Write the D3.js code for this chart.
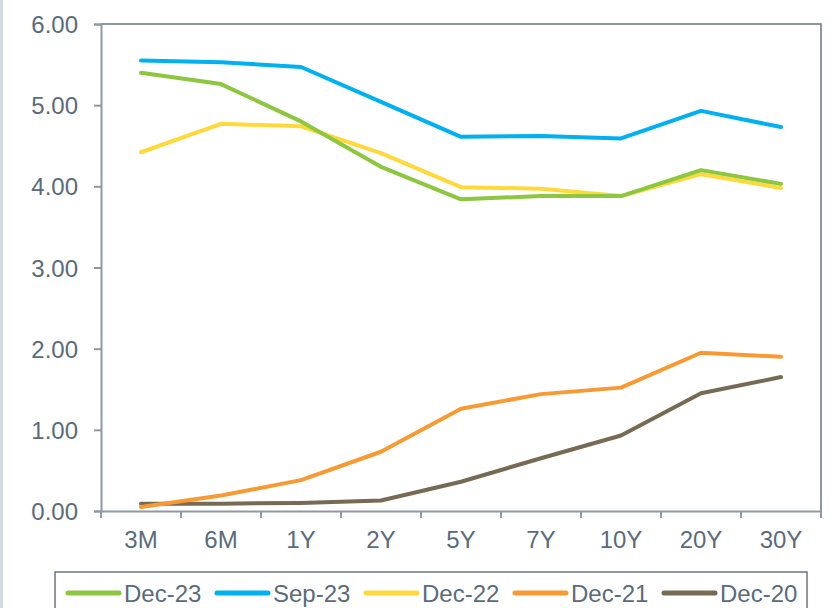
<!DOCTYPE html>
<html>
<head>
<meta charset="utf-8">
<script src="https://d3js.org/d3.v7.min.js"></script>
<style>
  body { margin: 0; background: #fff; }
  text { font-family: "Liberation Sans", Arial, sans-serif; fill: #5a6b7c; }
</style>
</head>
<body>
<svg id="chart" width="835" height="608"></svg>
<script>
// tenors and yield curves (%)
var tenors = ["3M", "6M", "1Y", "2Y", "5Y", "7Y", "10Y", "20Y", "30Y"];
var dec23 = [5.40, 5.26, 4.80, 4.24, 3.84, 3.88, 3.88, 4.20, 4.03];
var sep23 = [5.55, 5.53, 5.47, 5.04, 4.61, 4.62, 4.59, 4.93, 4.73];
var dec22 = [4.42, 4.77, 4.74, 4.41, 3.99, 3.97, 3.88, 4.15, 3.98];
var dec21 = [0.05, 0.19, 0.38, 0.73, 1.26, 1.44, 1.52, 1.95, 1.90];
var dec20 = [0.09, 0.09, 0.10, 0.13, 0.36, 0.65, 0.93, 1.45, 1.65];
var yTicks = [0, 1, 2, 3, 4, 5, 6];

var series = [
  {name: "Dec-23", values: dec23, color: "#8dc63f"},
  {name: "Sep-23", values: sep23, color: "#00b0f0"},
  {name: "Dec-22", values: dec22, color: "#ffd93b"},
  {name: "Dec-21", values: dec21, color: "#f79a33"},
  {name: "Dec-20", values: dec20, color: "#776a55"}
];

var svg = d3.select("#chart");
var margin = {top: 24, left: 101, right: 14, bottom: 97};
var width = 835 - margin.left - margin.right;
var height = 608 - margin.top - margin.bottom;

// thin strip on the left edge
svg.append("rect").attr("x", 0).attr("y", 0).attr("width", 3).attr("height", 608)
  .attr("fill", "#d3dbe3");

var g = svg.append("g").attr("transform", "translate(" + margin.left + "," + margin.top + ")");

var x = d3.scaleBand().domain(tenors).range([0, width]);
var y = d3.scaleLinear().domain([0, 6]).range([height, 0]);

// top and right frame
g.append("path")
  .attr("d", "M0,0H" + width + "V" + height)
  .attr("fill", "none").attr("stroke", "#667686").attr("stroke-width", 1.5);

var yAxis = g.append("g")
  .call(d3.axisLeft(y).tickValues(yTicks).tickFormat(d3.format(".2f")).tickSize(7).tickPadding(16));
var xAxis = g.append("g").attr("transform", "translate(0," + height + ")")
  .call(d3.axisBottom(x).tickSize(0).tickPadding(20));

// x ticks sit on the band edges
xAxis.selectAll(".edge").data(tenors.concat(["end"])).enter().append("line")
  .attr("x1", function(d, i) { return i * x.step(); })
  .attr("x2", function(d, i) { return i * x.step(); })
  .attr("y1", 0).attr("y2", 7);

[yAxis, xAxis].forEach(function(a) {
  a.selectAll(".domain").attr("stroke", "#8e99a4").attr("stroke-width", 2);
  a.selectAll("line").attr("stroke", "#8e99a4").attr("stroke-width", 2);
  a.selectAll("text").attr("font-size", 24).attr("fill", "#5a6b7c")
    .style("font-family", "'Liberation Sans', Arial, sans-serif");
});
yAxis.selectAll(".tick text").attr("dy", "0.36em");

var line = d3.line()
  .x(function(d, i) { return x(tenors[i]) + x.bandwidth() / 2; })
  .y(function(d) { return y(d); });

// draw back to front so Dec-23 sits on top like the original
series.slice().reverse().forEach(function(s) {
  g.append("path")
    .datum(s.values)
    .attr("fill", "none")
    .attr("stroke", s.color)
    .attr("stroke-width", 4)
    .attr("stroke-linecap", "round")
    .attr("stroke-linejoin", "round")
    .attr("d", line);
});

// legend
var legend = svg.append("g");
legend.append("rect").attr("x", 55).attr("y", 572).attr("width", 752).attr("height", 50)
  .attr("fill", "#fff").attr("stroke", "#667686").attr("stroke-width", 1.5);

var item = legend.selectAll(".item").data(series).enter().append("g")
  .attr("transform", function(d, i) { return "translate(" + (68 + i * 149) + ",593)"; });
item.append("line").attr("x1", 0).attr("x2", 51).attr("y1", 0).attr("y2", 0)
  .attr("stroke", function(d) { return d.color; }).attr("stroke-width", 5)
  .attr("stroke-linecap", "round");
item.append("text").attr("x", 56).attr("y", 0).attr("dy", "0.36em")
  .attr("font-size", 24).text(function(d) { return d.name; });
</script>
</body>
</html>
